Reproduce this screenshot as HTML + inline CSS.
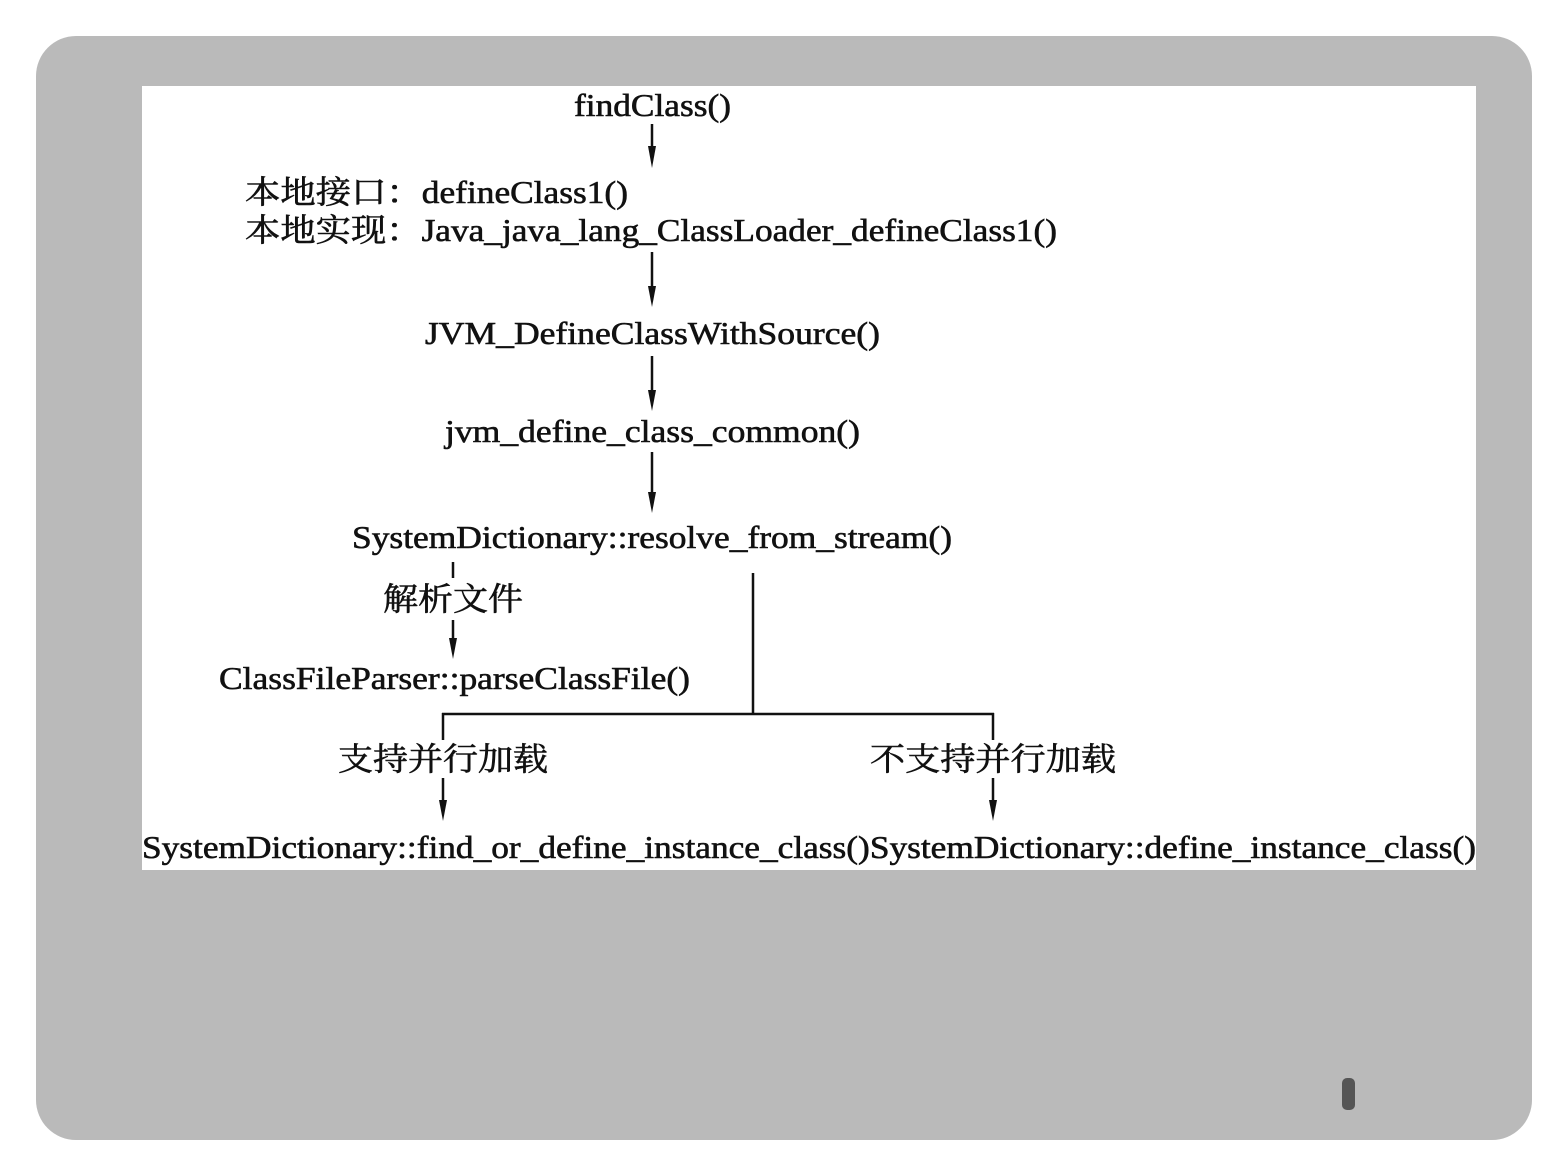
<!DOCTYPE html>
<html><head><meta charset="utf-8"><style>
html,body{margin:0;padding:0;background:#fff;width:1568px;height:1176px;overflow:hidden}
</style></head><body>
<svg width="1568" height="1176" xmlns="http://www.w3.org/2000/svg" style="position:absolute;left:0;top:0">
<rect x="36" y="36" width="1496" height="1104" rx="40" fill="#bababa"/>
<rect x="142" y="86" width="1334" height="784" fill="#fff"/>
<rect x="1342" y="1078" width="13" height="32" rx="5" fill="#555"/>
<g font-family="'Liberation Serif','Noto Serif CJK SC',serif" font-size="32" fill="#111" stroke="#111" stroke-width="0.6">
<text x="574" y="116" textLength="157" lengthAdjust="spacingAndGlyphs">findClass()</text>
<text x="245" y="203" textLength="383" lengthAdjust="spacingAndGlyphs">本地接口：defineClass1()</text>
<text x="245" y="241" textLength="812" lengthAdjust="spacingAndGlyphs">本地实现：Java_java_lang_ClassLoader_defineClass1()</text>
<text x="425" y="344" textLength="455" lengthAdjust="spacingAndGlyphs">JVM_DefineClassWithSource()</text>
<text x="445" y="442" textLength="415" lengthAdjust="spacingAndGlyphs">jvm_define_class_common()</text>
<text x="352" y="548" textLength="600" lengthAdjust="spacingAndGlyphs">SystemDictionary::resolve_from_stream()</text>
<text x="383" y="610" textLength="140" lengthAdjust="spacingAndGlyphs">解析文件</text>
<text x="219" y="689" textLength="471" lengthAdjust="spacingAndGlyphs">ClassFileParser::parseClassFile()</text>
<text x="338" y="770" textLength="210" lengthAdjust="spacingAndGlyphs">支持并行加载</text>
<text x="870" y="770" textLength="246" lengthAdjust="spacingAndGlyphs">不支持并行加载</text>
<text x="142" y="858" textLength="1334" lengthAdjust="spacingAndGlyphs">SystemDictionary::find_or_define_instance_class()SystemDictionary::define_instance_class()</text>
</g>
<g stroke="#111" stroke-width="2.5" fill="none">
<line x1="652" y1="124" x2="652" y2="150"/>
<line x1="652" y1="252" x2="652" y2="290"/>
<line x1="652" y1="356" x2="652" y2="394"/>
<line x1="652" y1="452" x2="652" y2="496"/>
<line x1="453" y1="562" x2="453" y2="578"/>
<line x1="453" y1="620" x2="453" y2="642"/>
<line x1="753" y1="573" x2="753" y2="714"/>
<line x1="442" y1="714" x2="994" y2="714"/>
<line x1="443" y1="713" x2="443" y2="740"/>
<line x1="993" y1="713" x2="993" y2="740"/>
<line x1="443" y1="778" x2="443" y2="804"/>
<line x1="993" y1="778" x2="993" y2="804"/>
</g>
<g fill="#111">
<path d="M648,146 L656,146 L652,168Z"/>
<path d="M648,286 L656,286 L652,307Z"/>
<path d="M648,390 L656,390 L652,411Z"/>
<path d="M648,492 L656,492 L652,513Z"/>
<path d="M449,638 L457,638 L453,659Z"/>
<path d="M439,800 L447,800 L443,821Z"/>
<path d="M989,800 L997,800 L993,821Z"/>
</g>
</svg>
</body></html>
